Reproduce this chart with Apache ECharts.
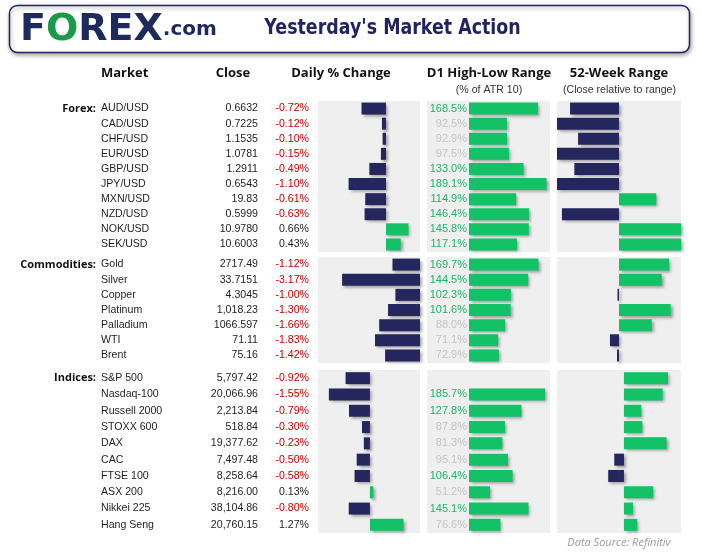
<!DOCTYPE html>
<html><head><meta charset="utf-8">
<script src="https://cdn.jsdelivr.net/npm/echarts@6/dist/echarts.min.js"></script>
<style>html,body{margin:0;padding:0;background:#fff}#c{width:701px;height:557px}</style>
</head><body><div id="c"></div><script>
// ---------- DATA ----------
const forexNames = ['AUD/USD','CAD/USD','CHF/USD','EUR/USD','GBP/USD','JPY/USD','MXN/USD','NZD/USD','NOK/USD','SEK/USD'];
const forexClose = ['0.6632','0.7225','1.1535','1.0781','1.2911','0.6543','19.83','0.5999','10.9780','10.6003'];
const forexDaily = [-0.72,-0.12,-0.10,-0.15,-0.49,-1.10,-0.61,-0.63,0.66,0.43];
const forexD1 = [168.5,92.5,92.9,97.5,133.0,189.1,114.9,146.4,145.8,117.1];
const forex52w = [-39.5,-50,-33,-50,-36,-50,30,-46,50,50];

const commNames = ['Gold','Silver','Copper','Platinum','Palladium','WTI','Brent'];
const commClose = ['2717.49','33.7151','4.3045','1,018.23','1066.597','71.11','75.16'];
const commDaily = [-1.12,-3.17,-1.00,-1.30,-1.66,-1.83,-1.42];
const commD1 = [169.7,144.5,102.3,101.6,88.0,71.1,72.9];
const comm52w = [40.5,34.4,-1.2,41.7,26.4,-7.3,-1.6];

const indNames = ['S&P 500','Nasdaq-100','Russell 2000','STOXX 600','DAX','CAC','FTSE 100','ASX 200','Nikkei 225','Hang Seng'];
const indClose = ['5,797.42','20,066.96','2,213.84','518.84','19,377.62','7,497.48','8,258.64','8,216.00','38,104.86','20,760.15'];
const indDaily = [-0.92,-1.55,-0.79,-0.30,-0.23,-0.50,-0.58,0.13,-0.80,1.27];
const indD1 = [null,185.7,127.8,87.8,81.3,95.1,106.4,51.2,145.1,76.6];
const ind52w = [35.5,31.2,14,14.8,34.4,-7.8,-12.7,23.6,7.3,10.7];

const groupLabels = ['Forex:','Commodities:','Indices:'];
const headers = ['Market','Close','Daily % Change','D1 High-Low Range','52-Week Range'];
const subHeaders = ['(% of ATR 10)','(Close relative to range)'];

// ---------- STYLE ----------
const NAVY = '#25265e', GREEN = '#13c266', PANEL = '#efefef';
const TXT = '#1e1e1e', RED = '#c00000', GTXT = '#1db46a', GRAYTXT = '#c4c4c4';
const BODYFONT = 'Liberation Sans', BODYSIZE = 10.6;
const shadow = {shadowColor:'rgba(0,0,0,0.35)', shadowBlur:3, shadowOffsetX:2, shadowOffsetY:2};

const sections = [
  {key:groupLabels[0], names:forexNames, close:forexClose, daily:forexDaily, d1:forexD1, w52:forex52w, top:101, height:151, dRange:[-2,1], wRange:[-50,50]},
  {key:groupLabels[1], names:commNames, close:commClose, daily:commDaily, d1:commD1, w52:comm52w, top:257, height:106, dRange:[-4.15,0], wRange:[-50,50]},
  {key:groupLabels[2], names:indNames, close:indClose, daily:indDaily, d1:indD1, w52:ind52w, top:370, height:163, dRange:[-1.96,1.89], wRange:[-54,46]}
];
const cols = [{left:318,width:102},{left:427,width:123},{left:557,width:124}];

const grid=[], xAxis=[], yAxis=[], series=[];
function labelAxis(gi, names, margin, align, formatter, extra){
  return {gridIndex:gi, type:'category', data:names, inverse:true, position:'left',
    axisLine:{show:false,onZero:false}, axisTick:{show:false}, splitLine:{show:false},
    axisLabel:Object.assign({interval:0, margin, align, formatter, fontFamily:BODYFONT, fontSize:BODYSIZE, color:TXT}, extra||{})};
}
sections.forEach((s)=>{
  cols.forEach((c,ci)=>{
    const gi = grid.length;
    grid.push({left:c.left, width:c.width, top:s.top, height:s.height, show:true, backgroundColor:PANEL, borderWidth:0, containLabel:false, outerBoundsMode:'none'});
    const range = ci===0 ? s.dRange : ci===1 ? [-102.4,197.6] : s.wRange;
    xAxis.push({gridIndex:gi, type:'value', min:range[0], max:range[1], show:false, splitLine:{show:false}});
    const yi = yAxis.length;
    yAxis.push({gridIndex:gi, type:'category', data:s.names, inverse:true, show:false, axisLine:{onZero:false}});
    if (ci===0){
      yAxis.push(labelAxis(gi, s.names, 222, 'right', (v,i)=> i===0 ? s.key : '', {fontFamily:'Open Sans', fontWeight:'bold', fontSize:11, color:'#111'}));
      yAxis.push(labelAxis(gi, s.names, 217, 'left', (v)=>v));
      yAxis.push(labelAxis(gi, s.names, 60, 'right', (v,i)=>s.close[i]));
      yAxis.push(labelAxis(gi, s.names, 9, 'right', (v,i)=>{const d=s.daily[i]; const t=d.toFixed(2)+'%'; return d<0?'{n|'+t+'}':'{p|'+t+'}';},
        {rich:{n:{color:RED,fontFamily:BODYFONT,fontSize:BODYSIZE}, p:{color:TXT,fontFamily:BODYFONT,fontSize:BODYSIZE}}}));
      series.push({type:'bar', xAxisIndex:gi, yAxisIndex:yi, barWidth:12, silent:true,
        itemStyle:shadow,
        data:s.daily.map(v=>({value:v, itemStyle:Object.assign({color:v<0?NAVY:GREEN}, shadow)}))});
    } else if (ci===1){
      series.push({type:'bar', xAxisIndex:gi, yAxisIndex:yi, barWidth:12, silent:true,
        itemStyle:Object.assign({color:GREEN}, shadow),
        label:{show:true, position:'left', distance:2, fontFamily:BODYFONT, fontSize:11, formatter:p=>p.value.toFixed(1)+'%'},
        data:s.d1.map(v=> v==null ? null : ({value:v, label:{color: v>=100?GTXT:GRAYTXT}}))});
    } else {
      series.push({type:'bar', xAxisIndex:gi, yAxisIndex:yi, barWidth:12, silent:true,
        data:s.w52.map(v=>({value:v, itemStyle:Object.assign({color:v<0?NAVY:GREEN}, shadow)}))});
    }
  });
});

const hdrFont = 'bold 13px "Open Sans"';
const hdrX = [124.7, 233, 341, 489, 619];
const graphic = [
  {type:'rect', shape:{x:9.5,y:5.5,width:680,height:47,r:8}, style:{fill:'#fff', stroke:'#23235f', lineWidth:1.5, shadowColor:'rgba(0,0,0,0.35)', shadowBlur:4, shadowOffsetY:2, shadowOffsetX:1}},
  {type:'text', x:20, y:30, style:{text:'{a|F}{b|O}{a|REX}{c|.com}', textVerticalAlign:'middle', textAlign:'left',
    rich:{a:{font:'bold 38px "DejaVu Sans"', fill:'#1f2a5c'}, b:{font:'bold 38px "DejaVu Sans"', fill:'#1a9a4a'}, c:{font:'bold 20px "DejaVu Sans"', fill:'#1f2a5c'}}}},
  {type:'text', x:392.5, y:29, scaleX:0.83, style:{text:'Yesterday\'s Market Action', font:'bold 21px "DejaVu Sans"', fill:'#23235f', textAlign:'center', textVerticalAlign:'middle'}},
  {type:'text', x:619, y:543, style:{text:'Data Source: Refinitiv', font:'italic 11px "Open Sans"', fill:'#9a9a9a', textAlign:'center', textVerticalAlign:'middle'}},
  {type:'text', x:489, y:90, style:{text:subHeaders[0], font:'10.6px "Liberation Sans"', fill:'#333', textAlign:'center', textVerticalAlign:'middle'}},
  {type:'text', x:619.5, y:90, style:{text:subHeaders[1], font:'10.6px "Liberation Sans"', fill:'#333', textAlign:'center', textVerticalAlign:'middle'}}
];
headers.forEach((h,i)=>graphic.push({type:'text', x:hdrX[i], y:73, style:{text:h, font:hdrFont, fill:'#111', textAlign:'center', textVerticalAlign:'middle'}}));

const chart = echarts.init(document.getElementById('c'), null, {renderer:'canvas'});
chart.setOption({animation:false, backgroundColor:'#fff', grid, xAxis, yAxis, series, graphic});
</script></body></html>
